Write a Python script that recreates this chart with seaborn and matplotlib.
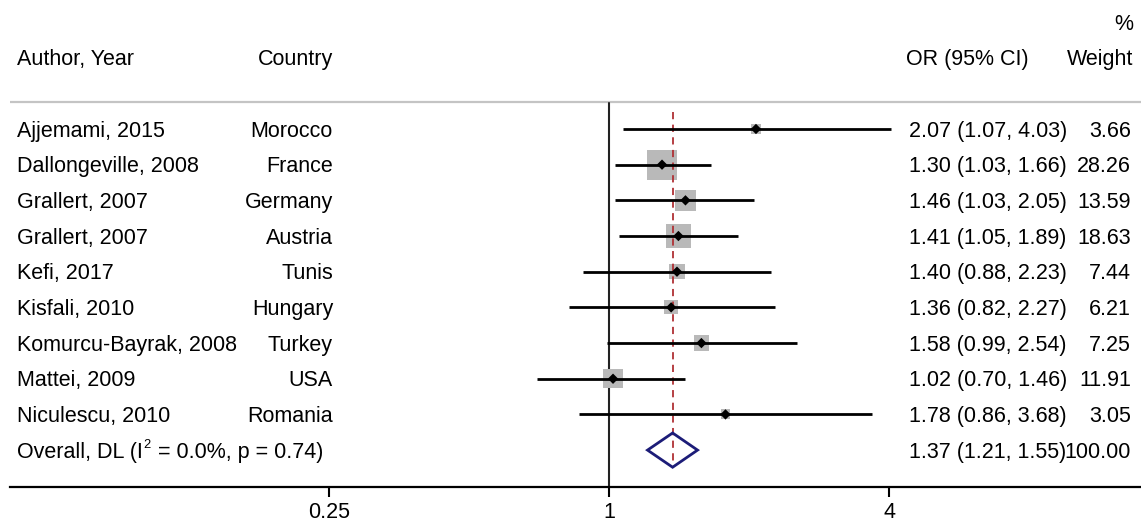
import numpy as np
import pandas as pd
import seaborn as sns
import matplotlib.pyplot as plt
import matplotlib.transforms as mtransforms
from matplotlib.patches import Polygon

# Dados do forest plot
autores = ["Ajjemami, 2015", "Dallongeville, 2008", "Grallert, 2007", "Grallert, 2007",
           "Kefi, 2017", "Kisfali, 2010", "Komurcu-Bayrak, 2008", "Mattei, 2009",
           "Niculescu, 2010"]
paises = ["Morocco", "France", "Germany", "Austria", "Tunis", "Hungary", "Turkey",
          "USA", "Romania"]
odds = [2.07, 1.30, 1.46, 1.41, 1.40, 1.36, 1.58, 1.02, 1.78]
ic_inf = [1.07, 1.03, 1.03, 1.05, 0.88, 0.82, 0.99, 0.70, 0.86]
ic_sup = [4.03, 1.66, 2.05, 1.89, 2.23, 2.27, 2.54, 1.46, 3.68]
pesos = [3.66, 28.26, 13.59, 18.63, 7.44, 6.21, 7.25, 11.91, 3.05]

overall_or = 1.37
overall_inf = 1.21
overall_sup = 1.55
overall_peso = "100.00"

ticks = [0.25, 1, 4]
tick_labels = ["0.25", "1", "4"]

df = pd.DataFrame({"autor": autores, "pais": paises, "OR": odds,
                   "inf": ic_inf, "sup": ic_sup, "peso": pesos})
df["linha"] = np.arange(len(df))
df["tam"] = df["peso"] * 16.5

sns.set_style("white")
plt.rcParams["font.family"] = ["Liberation Sans", "DejaVu Sans"]
plt.rcParams["text.color"] = "black"
plt.rcParams["xtick.color"] = "black"
plt.rcParams["xtick.labelcolor"] = "black"
fs = 15.5
dy = 0.06  # pequeno ajuste vertical dos textos

fig = plt.figure(figsize=(11.41, 5.22), dpi=100)
ax = fig.add_axes([10 / 1141, 35 / 522, 1131 / 1141, 487 / 522])
ax.set_xscale("log", base=2)
ax.set_xlim(2 ** -4.279, 2 ** 3.8)
ax.set_ylim(10.034, -3.615)

# Linhas de referência
ax.axhline(-0.757, color="#c4c4c4", lw=1.6, zorder=1)
ax.plot([1, 1], [-0.73, 10.034], color="#222222", lw=1.5, zorder=2)
ax.plot([overall_or, overall_or], [-0.48, 9.47], color="#b03035", lw=1.3,
        ls=(0, (4, 3)), zorder=4)

# Quadrados (peso) e intervalos
sns.scatterplot(data=df, x="OR", y="linha", size="tam", sizes=(df["tam"].min(), df["tam"].max()),
                marker="s", color="#b9b9b9", edgecolor="none", legend=False, ax=ax, zorder=3)
ax.hlines(df["linha"], df["inf"], df["sup"], color="black", lw=2, zorder=5)
sns.scatterplot(data=df, x="OR", y="linha", marker="D", color="black", s=28,
                edgecolor="none", legend=False, ax=ax, zorder=6)

# Diamante geral
yo = len(df)
diamante = Polygon([[overall_inf, yo], [overall_or, yo - 0.48], [overall_sup, yo],
                    [overall_or, yo + 0.48]], closed=True, fill=False,
                   edgecolor="#1c1c78", lw=2, zorder=5)
ax.add_patch(diamante)

# Eixo
for s in ["top", "left", "right"]:
    ax.spines[s].set_visible(False)
ax.spines["bottom"].set_linewidth(1.6)
ax.spines["bottom"].set_color("black")
ax.set_xticks(ticks)
ax.set_xticklabels(tick_labels, fontsize=fs)
ax.minorticks_off()
ax.tick_params(axis="x", direction="out", length=7, width=1.5, color="black", pad=4,
               bottom=True)
ax.set_yticks([])
ax.set_xlabel("")
ax.set_ylabel("")

# Textos das colunas
tr = mtransforms.blended_transform_factory(fig.transFigure, ax.transData)
def px(x):
    return x / 1141

fig.text(px(17), -2 + dy, "Author, Year", transform=tr, fontsize=fs, va="center", ha="left")
fig.text(px(333), -2 + dy, "Country", transform=tr, fontsize=fs, va="center", ha="right")
fig.text(px(906), -2 + dy, "OR (95% CI)", transform=tr, fontsize=fs, va="center", ha="left")
fig.text(px(1133), -2 + dy, "Weight", transform=tr, fontsize=fs, va="center", ha="right")
fig.text(px(1133), -3 + dy, "%", transform=tr, fontsize=fs, va="center", ha="right")

for i, r in df.iterrows():
    y = r["linha"] + dy
    fig.text(px(17), y, r["autor"], transform=tr, fontsize=fs, va="center", ha="left")
    fig.text(px(333), y, r["pais"], transform=tr, fontsize=fs, va="center", ha="right")
    fig.text(px(909), y, f"{r['OR']:.2f} ({r['inf']:.2f}, {r['sup']:.2f})",
             transform=tr, fontsize=fs, va="center", ha="left")
    fig.text(px(1131), y, f"{r['peso']:.2f}", transform=tr, fontsize=fs,
             va="center", ha="right")

# Linha do efeito geral (I² com sobrescrito pequeno)
t1 = fig.text(px(17), yo + dy, "Overall, DL (I", transform=tr, fontsize=fs, va="center", ha="left")
fig.canvas.draw()
bb = t1.get_window_extent()
t2 = fig.text(bb.x1 / 1141 + 0.0005, yo - 0.2 + dy, "2", transform=tr, fontsize=fs * 0.6,
              va="center", ha="left")
bb2 = t2.get_window_extent(renderer=fig.canvas.get_renderer())
fig.text(bb2.x1 / 1141 + 0.001, yo + dy, " = 0.0%, p = 0.74)", transform=tr, fontsize=fs,
         va="center", ha="left")
fig.text(px(909), yo + dy, f"{overall_or:.2f} ({overall_inf:.2f}, {overall_sup:.2f})",
         transform=tr, fontsize=fs, va="center", ha="left")
fig.text(px(1131), yo + dy, overall_peso, transform=tr, fontsize=fs, va="center", ha="right")

fig.savefig("out.png", dpi=100)
